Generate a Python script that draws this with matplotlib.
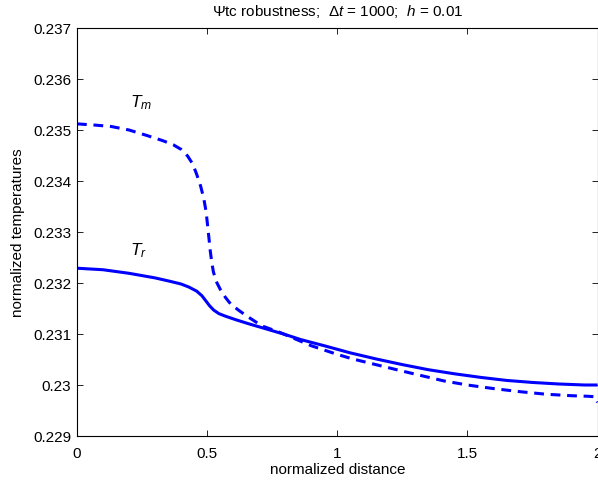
import matplotlib
matplotlib.use('Agg')
import matplotlib.pyplot as plt
from matplotlib.ticker import FixedLocator, FuncFormatter

plt.rcParams['font.family'] = ['Liberation Sans', 'DejaVu Sans']
plt.rcParams['mathtext.fontset'] = 'custom'
plt.rcParams['mathtext.rm'] = 'Liberation Sans'
plt.rcParams['mathtext.it'] = 'Liberation Sans:italic'

# T_r (solid)
x_r = [0, 0.1, 0.2, 0.3, 0.36, 0.4, 0.43, 0.46, 0.48, 0.495, 0.51, 0.525, 0.545, 0.57,
       0.61, 0.66, 0.72, 0.8, 0.86, 0.95, 1.05, 1.15, 1.25, 1.35, 1.45, 1.55, 1.65, 1.75,
       1.85, 1.95, 2.0]
t_r = [0.23229, 0.23226, 0.23219, 0.23210, 0.23203, 0.23198, 0.23192, 0.23184, 0.23175,
       0.23165, 0.23155, 0.23147, 0.23140, 0.23135, 0.23128, 0.23120, 0.23111, 0.23099,
       0.23089, 0.23077, 0.23063, 0.23051, 0.23040, 0.23030, 0.23022, 0.23015, 0.23009,
       0.23005, 0.23002, 0.23000, 0.23000]

# T_m (dashed)
x_m = [0, 0.06, 0.13, 0.2, 0.27, 0.33, 0.37, 0.4, 0.425, 0.445, 0.46, 0.475, 0.487, 0.496,
       0.502, 0.507, 0.512, 0.518, 0.524, 0.535, 0.55, 0.57, 0.59, 0.62, 0.65, 0.71, 0.78,
       0.84, 0.9, 1.0, 1.06, 1.14, 1.22, 1.31, 1.41, 1.5, 1.6, 1.7, 1.8, 1.9, 1.96, 1.99, 2.0]
t_m = [0.23512, 0.23510, 0.23507, 0.23500, 0.23489, 0.23479, 0.23471, 0.23462, 0.23449,
       0.23433, 0.23413, 0.23390, 0.23366, 0.23340, 0.23312, 0.23288, 0.23263, 0.23240,
       0.23222, 0.23203, 0.23188, 0.23172, 0.23159, 0.23147, 0.23136, 0.23116, 0.23103,
       0.23090, 0.23077, 0.23060, 0.23051, 0.23041, 0.23031, 0.23020, 0.23008, 0.23000,
       0.22993, 0.22987, 0.22982, 0.22979, 0.22978, 0.22977, 0.22966]

xticks = [0, 0.5, 1, 1.5, 2]
yticks = [0.229, 0.230, 0.231, 0.232, 0.233, 0.234, 0.235, 0.236, 0.237]

fig = plt.figure(figsize=(5.98, 4.85), dpi=100)
ax = fig.add_axes([77/598, 48/485, 520.5/598, 408/485])

ax.plot(x_r, t_r, color='#0000ff', linewidth=2.2, solid_capstyle='butt')
ax.plot(x_m, t_m, color='#0000ff', linewidth=2.2, linestyle=(0, (3.2, 2.2)))

ax.set_xlim(0, 2)
ax.set_ylim(0.229, 0.237)
ax.xaxis.set_major_locator(FixedLocator(xticks))
ax.yaxis.set_major_locator(FixedLocator(yticks))
ax.xaxis.set_major_formatter(FuncFormatter(lambda v, p: '%g' % round(v, 4)))
ax.yaxis.set_major_formatter(FuncFormatter(lambda v, p: '%g' % round(v, 4)))
ax.tick_params(direction='in', length=4.5, width=0.6, labelsize=11,
               top=True, right=True, pad=4)
ax.tick_params(axis='x', pad=7)
for s in ax.spines.values():
    s.set_linewidth(0.8)

ax.set_xlabel('normalized distance', fontsize=11, labelpad=2)
ax.set_ylabel('normalized temperatures', fontsize=11, labelpad=6)
ax.set_title(r'$\Psi$tc robustness;  $\Delta t$ = 1000;  $h$ = 0.01', fontsize=11, pad=9)

ax.text(0.245, 0.23556, r'$T_m$', fontsize=12.5, ha='center', va='center')
ax.text(0.235, 0.23265, r'$T_r$', fontsize=12.5, ha='center', va='center')

fig.savefig('out.png', dpi=100)
